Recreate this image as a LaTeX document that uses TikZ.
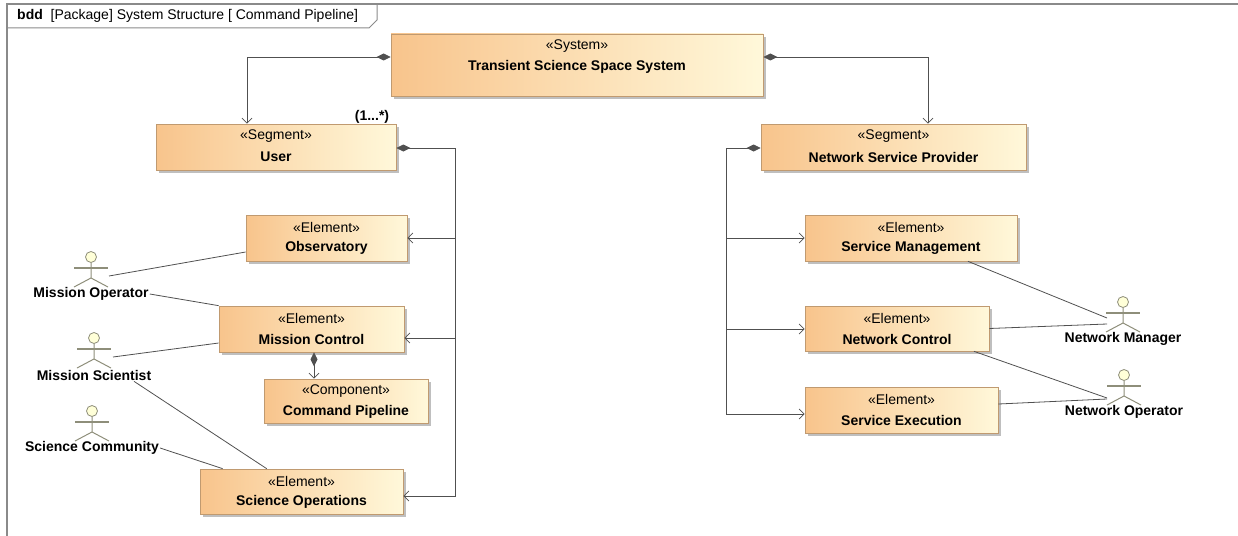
\documentclass[tikz,border=0pt]{standalone}
\usepackage{fontspec}
\setmainfont{Liberation Sans}
\usetikzlibrary{arrows.meta,shadows,calc}
\definecolor{boxL}{HTML}{F8C48C}
\definecolor{boxR}{HTML}{FFF8DA}
\definecolor{boxB}{HTML}{C09A70}
\definecolor{lineC}{HTML}{505050}
\definecolor{frameC}{HTML}{8A8A8A}
\definecolor{actC}{HTML}{8E8E7A}
\definecolor{headC}{HTML}{FFFFD8}
\tikzset{
 blk/.style={draw=boxB, line width=0.7pt, left color=boxL, right color=boxR,
   drop shadow={shadow xshift=3pt, shadow yshift=-3pt, fill=black, opacity=0.25}, inner sep=0pt},
 stxt/.style={font=\fontsize{14}{16}\selectfont, inner sep=0pt},
 ttxt/.style={font=\fontsize{14}{16}\selectfont\bfseries, inner sep=0pt},
 conn/.style={draw=lineC, line width=0.8pt},
 compo/.style={conn, {Diamond[length=14pt,width=7pt,fill=lineC]}-{Straight Barb[length=5pt,width=10pt]}},
 assocarr/.style={conn, -{Straight Barb[length=5pt,width=10pt]}},
 plainln/.style={conn},
 actlbl/.style={font=\fontsize{14}{16}\selectfont\bfseries, inner sep=1pt},
 hdrtxt/.style={font=\fontsize{14}{16}\selectfont, inner sep=0pt, anchor=west},
}
\newcommand{\umlblock}[7]{%
 \node[blk, minimum width={#4-#2}, minimum height={#5-#3}] (#1) at ({(#2+#4)/2},{(#3+#5)/2}) {};
 \node[stxt] (#1-s) at ({(#2+#4)/2},{#3+12.5}) {«#6»};
 \node[ttxt] (#1-t) at ({(#2+#4)/2},{#3+33}) {#7};
}
\newcommand{\umlactor}[4]{%
 \node[inner sep=0pt, minimum size=0pt] (#1) at (#2,#3) {};
 \begin{scope}[shift={(#1)}]
  \draw[actC, line width=1pt] (0,5.5) -- (0,21) (-17,30) -- (0,21) -- (17,30);
  \draw[actC, line width=1.6pt] (-17,11) -- (17,11);
  \draw[actC, line width=0.8pt, fill=headC] (0,0) circle[radius=5.5pt];
 \end{scope}
 \node[actlbl] (#1-l) at (#2,{#3+37}) {#4};
}
\begin{document}
\begin{tikzpicture}[x=1pt,y=-1pt]
\useasboundingbox (0,0) rectangle (1238,535);
\clip (0,0) rectangle (1238,535);
% frame
\draw[frameC, line width=1.3pt] (7,560) -- (7,4) -- (1260,4);
\draw[frameC, line width=1pt] (7,28) -- (369,28) -- (377,20) -- (377,4);
\node[hdrtxt] (hdr) at (17,16) {\textbf{bdd}\ \ [Package] System Structure [ Command Pipeline]};
% blocks
\umlblock{sys}{391}{34}{763}{96}{System}{Transient Science Space System}
\umlblock{user}{156}{124}{396}{170}{Segment}{User}
\umlblock{nsp}{761}{124}{1026}{170}{Segment}{Network Service Provider}
\umlblock{obs}{246}{215}{407}{261}{Element}{Observatory}
\umlblock{mc}{219}{306}{404}{352}{Element}{Mission Control}
\umlblock{cp}{264}{379}{428}{423}{Component}{Command Pipeline}
\umlblock{so}{200}{469}{403}{514}{Element}{Science Operations}
\umlblock{sm}{805}{215}{1017}{261}{Element}{Service Management}
\umlblock{nc}{805}{306}{989}{351}{Element}{Network Control}
\umlblock{se}{805}{387}{998}{433}{Element}{Service Execution}
\node[ttxt] (mult) at (372,117) {(1...*)};
% actors
\umlactor{mo}{91}{257}{Mission Operator}
\umlactor{ms}{94}{338}{Mission Scientist}
\umlactor{sc}{92}{411}{Science Community}
\umlactor{nm}{1123}{302}{Network Manager}
\umlactor{no}{1124}{375}{Network Operator}
% compositions
\coordinate (j1) at (247,57);
\draw[compo] (sys.west |- j1) -- (j1) -- (user.north -| j1);
\coordinate (j2) at (928,57);
\draw[compo] (sys.east |- j2) -- (j2) -- (nsp.north -| j2);
\coordinate (u0) at (455,148); \coordinate (u1) at (455,238);
\coordinate (u2) at (455,338); \coordinate (u3) at (455,496);
\draw[compo] (user.east |- u0) -- (u0) -- (u3) -- (so.east |- u3);
\draw[assocarr] (u1) -- (obs.east |- u1);
\draw[assocarr] (u2) -- (mc.east |- u2);
\coordinate (n0) at (726,148); \coordinate (n1) at (726,238);
\coordinate (n2) at (726,329); \coordinate (n3) at (726,414);
\draw[compo] (nsp.west |- n0) -- (n0) -- (n3) -- (se.west |- n3);
\draw[assocarr] (n1) -- (sm.west |- n1);
\draw[assocarr] (n2) -- (nc.west |- n2);
\coordinate (mcp) at (314,365);
\draw[compo] (mc.south -| mcp) -- (cp.north -| mcp);
% actor associations
\draw[plainln] ($(mo)+(18,19)$) -- ($(obs.west)+(0,14)$);
\draw[plainln] (mo-l.east) -- (mc.north west);
\draw[plainln] ($(ms)+(19,19)$) -- ($(mc.west)+(0,14)$);
\draw[plainln] ($(ms-l.south)+(40,0)$) -- ($(so.north west)+(67,0)$);
\draw[plainln] (sc-l.east) -- ($(so.north west)+(23,0)$);
\draw[plainln] ($(sm.south)+(57,0)$) -- ($(nm)+(-16,16)$);
\draw[plainln] (nc.east) -- ($(nm)+(-16,22)$);
\draw[plainln] ($(nc.south)+(77,0)$) -- ($(no)+(-17,23)$);
\draw[plainln] ($(se.east)+(0,-6)$) -- ($(no)+(-17,24)$);
\end{tikzpicture}
\end{document}
